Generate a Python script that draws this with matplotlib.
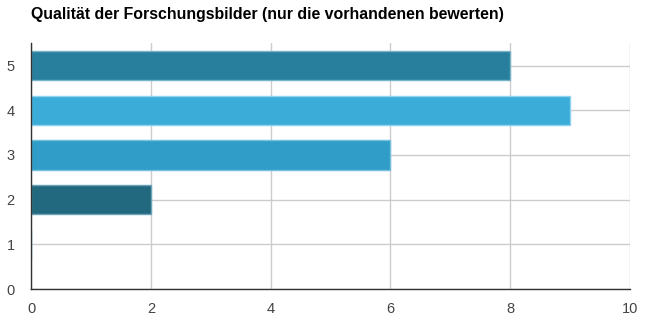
import matplotlib
matplotlib.use("Agg")
from matplotlib import pyplot as plt

plt.rcParams['font.family'] = ['Liberation Sans', 'DejaVu Sans']

ratings = [1, 2, 3, 4, 5]
counts = [0, 2, 6, 9, 8]
bar_colors = ['#2f9dc7', '#22687f', '#2f9dc7', '#3aacd7', '#277f9d']
edge_colors = ['#7cc6e3', '#6aa4b6', '#72bfe0', '#8ed3ef', '#78b3c8']

fig = plt.figure(figsize=(6.56, 3.32), dpi=100)
ax = fig.add_axes([0.048, 0.1295, 0.912, 0.74])

ax.barh(ratings, counts, height=0.65, color=bar_colors, edgecolor=edge_colors,
        linewidth=1, zorder=3)

ax.set_xlim(0, 10)
ax.set_ylim(0, 5.5)
ax.set_xticks([0, 2, 4, 6, 8, 10])
ax.set_yticks([0, 1, 2, 3, 4, 5])
ax.grid(True, color='#cccccc', linewidth=1, zorder=0)
ax.tick_params(length=0, labelsize=10.5, colors='#444444')
ax.tick_params(axis='x', pad=9)
ax.tick_params(axis='y', pad=12)

for side in ['top', 'right']:
  ax.spines[side].set_visible(False)
for side in ['left', 'bottom']:
  ax.spines[side].set_color('#333333')
  ax.spines[side].set_linewidth(1)
  ax.spines[side].set_zorder(4)

fig.text(0.048, 0.978, "Qualität der Forschungsbilder (nur die vorhandenen bewerten)",
         fontsize=11.4, fontweight='bold', color='#000000', va='top', ha='left')

fig.savefig("out.png", dpi=100)
